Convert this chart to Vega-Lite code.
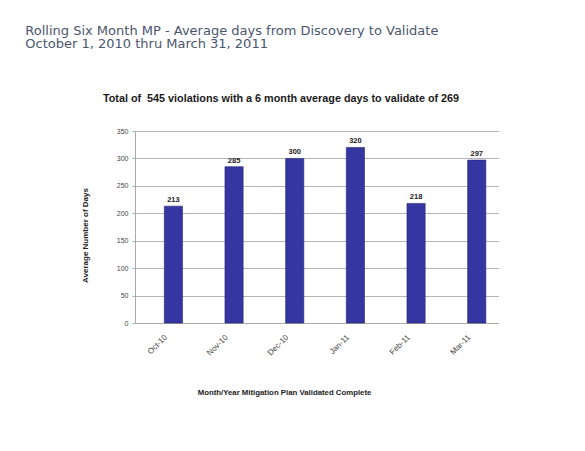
{
  "$schema": "https://vega.github.io/schema/vega-lite/v6.json",
  "autosize": {"type": "pad"},
  "padding": {"left": 25, "top": 24, "right": 0, "bottom": 0},
  "background": "#ffffff",
  "title": {
    "text": ["Rolling Six Month MP - Average days from Discovery to Validate", "October 1, 2010 thru March 31, 2011"],
    "anchor": "start",
    "frame": "bounds",
    "font": "DejaVu Sans",
    "fontSize": 13,
    "fontWeight": "normal",
    "color": "#4a5670",
    "lineHeight": 13.5,
    "dx": -56,
    "offset": 42
  },
  "config": {
    "view": {"stroke": null},
    "font": "Liberation Sans"
  },
  "data": {
    "values": [
      {"month": "Oct-10", "days": 213},
      {"month": "Nov-10", "days": 285},
      {"month": "Dec-10", "days": 300},
      {"month": "Jan-11", "days": 320},
      {"month": "Feb-11", "days": 218},
      {"month": "Mar-11", "days": 297}
    ]
  },
  "vconcat": [
    {
      "width": 364,
      "height": 192,
      "title": {
        "text": "Total of \u00a0545 violations with a 6 month average days to validate of 269",
        "font": "Liberation Sans",
        "fontSize": 10.8,
        "fontWeight": "bold",
        "color": "#1a1a1a",
        "anchor": "middle",
        "dx": -36,
        "offset": 23
      },
      "encoding": {
        "x": {
          "field": "month",
          "type": "ordinal",
          "sort": null,
          "scale": {"paddingInner": 0.7, "paddingOuter": 0.35, "align": 0.69},
          "axis": {
            "title": "Month/Year Mitigation Plan Validated Complete",
            "titleFont": "Liberation Sans",
            "titleFontSize": 7.8,
            "titleFontWeight": "bold",
            "titleColor": "#222222",
            "titleX": 149,
            "titlePadding": 32,
            "labelAngle": -45,
            "labelFontSize": 8,
            "labelColor": "#444444",
            "labelPadding": 10,
            "labelOffset": -10,
            "ticks": false,
            "domainColor": "#aaaaaa"
          }
        },
        "y": {
          "field": "days",
          "type": "quantitative",
          "scale": {"domain": [0, 350]},
          "axis": {
            "title": "Average Number of Days",
            "titleFont": "Liberation Sans",
            "titleFontSize": 8,
            "titleFontWeight": "bold",
            "titleColor": "#222222",
            "titlePadding": 27,
            "titleY": 104,
            "values": [0, 50, 100, 150, 200, 250, 300, 350],
            "labelFontSize": 7,
            "labelColor": "#444444",
            "labelPadding": 4,
            "tickSize": 3,
            "tickColor": "#aaaaaa",
            "gridColor": "#b5b5b5",
            "domainColor": "#aaaaaa"
          }
        }
      },
      "layer": [
        {
          "mark": {"type": "bar", "color": "#3636a3", "stroke": "#26266e", "strokeWidth": 0.6}
        },
        {
          "mark": {"type": "text", "dy": -6, "fontSize": 7.5, "fontWeight": "bold", "color": "#222222"},
          "encoding": {
            "text": {"field": "days", "type": "quantitative"}
          }
        }
      ]
    }
  ]
}
